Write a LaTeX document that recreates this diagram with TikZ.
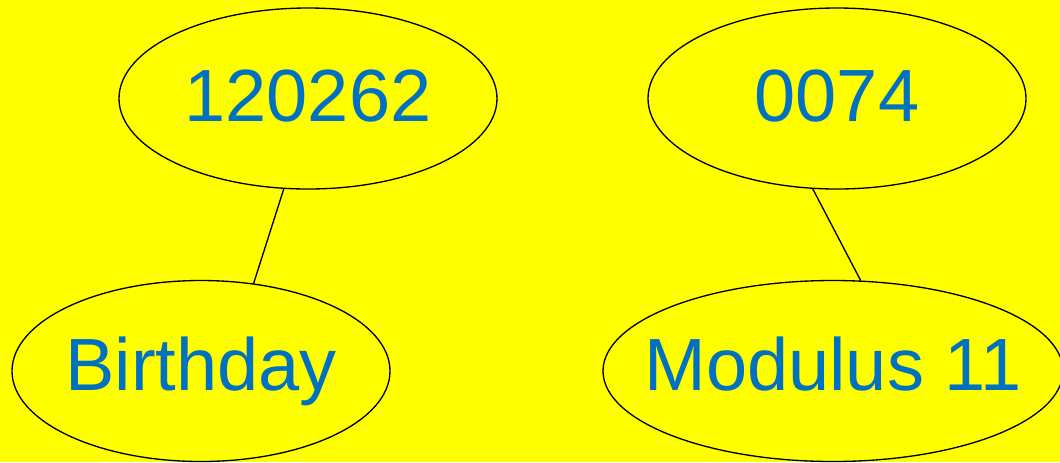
\documentclass[tikz,border=0pt]{standalone}
\usepackage{fontspec}
\setmainfont{Liberation Sans}
\usetikzlibrary{shapes.geometric, positioning}

\definecolor{bgyellow}{HTML}{FFFF00}
\definecolor{textblue}{HTML}{0070C0}

\begin{document}
\begin{tikzpicture}[
    x=0.75pt, y=-0.75pt,
    oval/.style={ellipse, draw=black, line width=1pt, fill=bgyellow, inner ysep=0pt, inner xsep=-12pt, minimum width=283.5pt, minimum height=135.75pt, text=textblue, font=\fontsize{55.5pt}{60pt}\selectfont},
    num_oval/.style={oval, text depth=4.4pt},
    wide_oval/.style={oval, inner xsep=-20pt, minimum width=345pt, text depth=11pt},
    link/.style={line width=1pt}
]
    % ========== Canvas ==========
    \useasboundingbox (0,0) rectangle (1060,462);
    \clip (0,0) rectangle (1060,462);
    \fill[bgyellow] (0,0) rectangle (1060,462);

    % ========== Left pair ==========
    \node[num_oval] (date_num) at (308,98.5) {120262};
    \node[oval] (birthday) at (201,371) {Birthday};

    % ========== Right pair ==========
    \node[num_oval] (check_num) at (837,98.5) {0074};
    \node[wide_oval] (modulus) at (833,371) {Modulus 11};

    % Connectors
    \draw[link] (date_num.255.9) -- (birthday.59);
    \draw[link] (check_num.255.9) -- (modulus.73.3);

\end{tikzpicture}
\end{document}
